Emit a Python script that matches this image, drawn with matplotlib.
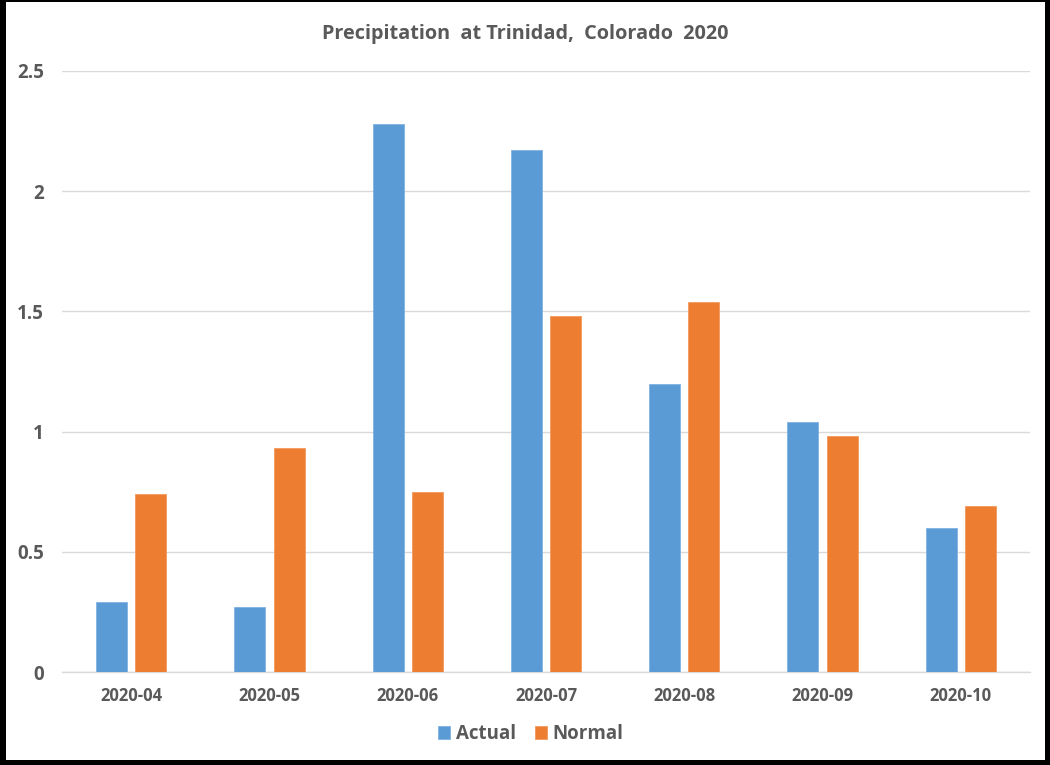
import matplotlib
matplotlib.use("Agg")
import matplotlib.pyplot as plt
import numpy as np
from matplotlib.patches import Rectangle

months = ["2020-04", "2020-05", "2020-06", "2020-07", "2020-08", "2020-09", "2020-10"]
actual = [0.29, 0.27, 2.28, 2.17, 1.20, 1.04, 0.60]
normal = [0.74, 0.93, 0.75, 1.48, 1.54, 0.98, 0.69]
y_ticks = [0, 0.5, 1, 1.5, 2, 2.5]
y_labels = ["0", "0.5", "1", "1.5", "2", "2.5"]

plt.rcParams["font.family"] = ["Open Sans", "DejaVu Sans"]
text_color = "#595959"
blue = "#5B9BD5"
orange = "#ED7D31"

fig = plt.figure(figsize=(10.5, 7.65), dpi=100)
fig.patch.set_facecolor("white")
ax = fig.add_axes([62 / 1050, 1 - 672 / 765, (1030 - 62) / 1050, (672 - 71) / 765])

x = np.arange(len(months))
w = 0.225
off = 0.142
ax.bar(x - off, actual, width=w, color=blue, edgecolor="#7FB2E0", linewidth=0.6, label="Actual", zorder=3)
ax.bar(x + off, normal, width=w, color=orange, edgecolor="#F29A5E", linewidth=0.6, label="Normal", zorder=3)

ax.set_xlim(-0.5, len(months) - 0.5)
ax.set_ylim(0, 2.5)
ax.set_yticks(y_ticks)
ax.set_yticklabels(y_labels, fontsize=13.5, fontweight="bold", color=text_color)
ax.set_xticks(x)
ax.set_xticklabels(months, fontsize=12, fontweight="bold", color=text_color)
ax.tick_params(axis="both", length=0)
ax.tick_params(axis="y", pad=13)
ax.tick_params(axis="x", pad=11)
ax.grid(axis="y", color="#D9D9D9", linewidth=1, zorder=0)
for s in ["top", "right", "left"]:
    ax.spines[s].set_visible(False)
ax.spines["bottom"].set_color("#D9D9D9")
ax.spines["bottom"].set_linewidth(1)

fig.text(525 / 1050, 1 - 34 / 765, "Precipitation  at Trinidad,  Colorado  2020",
         ha="center", va="center", fontsize=14.3, fontweight="bold", color=text_color)

leg = fig.legend(loc="center", bbox_to_anchor=(531 / 1050, 1 - 734 / 765), ncol=2,
                 frameon=False, fontsize=13.5, handlelength=0.65, handleheight=0.65,
                 handletextpad=0.3, columnspacing=1.0)
for t in leg.get_texts():
    t.set_color(text_color)
    t.set_fontweight("bold")

# black frame around the figure
fw, fh = 1050, 765
for (x0, y0, ww, hh) in [(0, 0, 6, fh), (fw - 5, 0, 5, fh), (0, fh - 2, fw, 2), (0, 0, fw, 5)]:
    fig.patches.append(Rectangle((x0 / fw, y0 / fh), ww / fw, hh / fh, transform=fig.transFigure,
                                 facecolor="black", edgecolor="none", zorder=10))

fig.savefig("out.png", dpi=100, facecolor="white")
